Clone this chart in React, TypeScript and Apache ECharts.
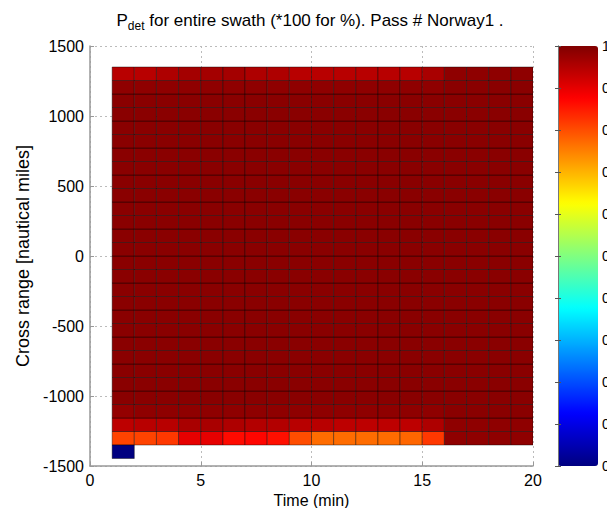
import React, { useEffect, useRef } from "react";
import * as echarts from "echarts";

// Time bin edges (minutes) of the detection grid
const timeEdges = [1, 2, 3, 4, 5, 6, 7, 8, 9, 10, 11, 12, 13, 14, 15, 16, 17, 18, 19, 20];

// Cross-range extent of the swath (nautical miles) and number of range bins
const swathMin = -1350;
const swathMax = 1350;
const rangeBinCount = 28;

// Detection probability per cell, listed from the lowest range bin upwards
const pdetRows: number[][] = [
  [0.81, 0.81, 0.82, 0.9, 0.9, 0.865, 0.87, 0.86, 0.8, 0.77, 0.77, 0.77, 0.77, 0.775, 0.82, 0.985, 0.985, 0.985, 0.985],
  [0.94, 0.945, 0.945, 0.96, 0.96, 0.955, 0.95, 0.95, 0.945, 0.945, 0.94, 0.94, 0.94, 0.94, 0.955, 0.985, 0.985, 0.985, 0.985],
  [0.98, 0.985, 0.985, 0.985, 0.985, 0.985, 0.985, 0.985, 0.985, 0.985, 0.985, 0.985, 0.985, 0.985, 0.985, 0.99, 0.99, 0.99, 0.99],
  [0.99, 0.99, 0.99, 0.99, 0.99, 0.99, 0.99, 0.99, 0.99, 0.99, 0.99, 0.99, 0.99, 0.99, 0.99, 0.99, 0.99, 0.99, 0.99],
  [0.99, 0.99, 0.99, 0.99, 0.99, 0.99, 0.99, 0.99, 0.99, 0.99, 0.99, 0.99, 0.99, 0.99, 0.99, 0.99, 0.99, 0.99, 0.99],
  [0.99, 0.99, 0.99, 0.99, 0.99, 0.99, 0.99, 0.99, 0.99, 0.99, 0.99, 0.99, 0.99, 0.99, 0.99, 0.99, 0.99, 0.99, 0.99],
  [0.99, 0.99, 0.99, 0.99, 0.99, 0.99, 0.99, 0.99, 0.99, 0.99, 0.99, 0.99, 0.99, 0.99, 0.99, 0.99, 0.99, 0.99, 0.99],
  [0.99, 0.99, 0.99, 0.99, 0.99, 0.99, 0.99, 0.99, 0.99, 0.99, 0.99, 0.99, 0.99, 0.99, 0.99, 0.99, 0.99, 0.99, 0.99],
  [0.99, 0.99, 0.99, 0.99, 0.99, 0.99, 0.99, 0.99, 0.99, 0.99, 0.99, 0.99, 0.99, 0.99, 0.99, 0.99, 0.99, 0.99, 0.99],
  [0.99, 0.99, 0.99, 0.99, 0.99, 0.99, 0.99, 0.99, 0.99, 0.99, 0.99, 0.99, 0.99, 0.99, 0.99, 0.99, 0.99, 0.99, 0.99],
  [0.99, 0.99, 0.99, 0.99, 0.99, 0.99, 0.99, 0.99, 0.99, 0.99, 0.99, 0.99, 0.99, 0.99, 0.99, 0.99, 0.99, 0.99, 0.99],
  [0.99, 0.99, 0.99, 0.99, 0.99, 0.99, 0.99, 0.99, 0.99, 0.99, 0.99, 0.99, 0.99, 0.99, 0.99, 0.99, 0.99, 0.99, 0.99],
  [0.99, 0.99, 0.99, 0.99, 0.99, 0.99, 0.99, 0.99, 0.99, 0.99, 0.99, 0.99, 0.99, 0.99, 0.99, 0.99, 0.99, 0.99, 0.99],
  [0.99, 0.99, 0.99, 0.99, 0.99, 0.99, 0.99, 0.99, 0.99, 0.99, 0.99, 0.99, 0.99, 0.99, 0.99, 0.99, 0.99, 0.99, 0.99],
  [0.99, 0.99, 0.99, 0.99, 0.99, 0.99, 0.99, 0.99, 0.99, 0.99, 0.99, 0.99, 0.99, 0.99, 0.99, 0.99, 0.99, 0.99, 0.99],
  [0.99, 0.99, 0.99, 0.99, 0.99, 0.99, 0.99, 0.99, 0.99, 0.99, 0.99, 0.99, 0.99, 0.99, 0.99, 0.99, 0.99, 0.99, 0.99],
  [0.99, 0.99, 0.99, 0.99, 0.99, 0.99, 0.99, 0.99, 0.99, 0.99, 0.99, 0.99, 0.99, 0.99, 0.99, 0.99, 0.99, 0.99, 0.99],
  [0.99, 0.99, 0.99, 0.99, 0.99, 0.99, 0.99, 0.99, 0.99, 0.99, 0.99, 0.99, 0.99, 0.99, 0.99, 0.99, 0.99, 0.99, 0.99],
  [0.99, 0.99, 0.99, 0.99, 0.99, 0.99, 0.99, 0.99, 0.99, 0.99, 0.99, 0.99, 0.99, 0.99, 0.99, 0.99, 0.99, 0.99, 0.99],
  [0.99, 0.99, 0.99, 0.99, 0.99, 0.99, 0.99, 0.99, 0.99, 0.99, 0.99, 0.99, 0.99, 0.99, 0.99, 0.99, 0.99, 0.99, 0.99],
  [0.99, 0.99, 0.99, 0.99, 0.99, 0.99, 0.99, 0.99, 0.99, 0.99, 0.99, 0.99, 0.99, 0.99, 0.99, 0.99, 0.99, 0.99, 0.99],
  [0.99, 0.99, 0.99, 0.99, 0.99, 0.99, 0.99, 0.99, 0.99, 0.99, 0.99, 0.99, 0.99, 0.99, 0.99, 0.99, 0.99, 0.99, 0.99],
  [0.99, 0.99, 0.99, 0.99, 0.99, 0.99, 0.99, 0.99, 0.99, 0.99, 0.99, 0.99, 0.99, 0.99, 0.99, 0.99, 0.99, 0.99, 0.99],
  [0.99, 0.99, 0.99, 0.99, 0.99, 0.99, 0.99, 0.99, 0.99, 0.99, 0.99, 0.99, 0.99, 0.99, 0.99, 0.99, 0.99, 0.99, 0.99],
  [0.99, 0.99, 0.99, 0.99, 0.99, 0.99, 0.99, 0.99, 0.99, 0.99, 0.99, 0.99, 0.99, 0.99, 0.99, 0.99, 0.99, 0.99, 0.99],
  [0.99, 0.99, 0.99, 0.99, 0.99, 0.99, 0.99, 0.99, 0.99, 0.99, 0.99, 0.99, 0.99, 0.99, 0.99, 0.99, 0.99, 0.99, 0.99],
  [0.985, 0.985, 0.985, 0.985, 0.985, 0.985, 0.985, 0.985, 0.985, 0.985, 0.985, 0.985, 0.985, 0.985, 0.985, 0.99, 0.99, 0.99, 0.99],
  [0.945, 0.945, 0.955, 0.965, 0.965, 0.965, 0.955, 0.955, 0.945, 0.945, 0.945, 0.945, 0.945, 0.945, 0.96, 0.985, 0.985, 0.985, 0.985],
];

// Single cell below the swath (first minute, one bin under the lowest row)
const belowSwathCell = { t0: 1, t1: 2, value: 0 };

// Axis tick labels
const timeTicks = [0, 5, 10, 15, 20];
const rangeTicks = [-1500, -1000, -500, 0, 500, 1000, 1500];
const colorbarTicks = [0, 0.1, 0.2, 0.3, 0.4, 0.5, 0.6, 0.7, 0.8, 0.9, 1];

// MATLAB "jet" colormap breakpoints (evenly spaced at 1/8)
const jetColors = ["#000080", "#0000ff", "#0080ff", "#00ffff", "#80ff80", "#ffff00", "#ff8000", "#ff0000", "#800000"];

const FONT = "'Liberation Sans', Arial, Helvetica, sans-serif";

export default function App() {
  const ref = useRef<HTMLDivElement>(null);

  useEffect(() => {
    if (!ref.current) return;
    const chart = echarts.init(ref.current, null, { renderer: "svg" });

    const binHeight = (swathMax - swathMin) / rangeBinCount;
    const rangeEdges: number[] = [];
    for (let i = 0; i <= rangeBinCount; i++) rangeEdges.push(swathMin + i * binHeight);

    const cells: number[][] = [];
    pdetRows.forEach((row, r) => {
      row.forEach((v, c) => {
        cells.push([timeEdges[c], timeEdges[c + 1], rangeEdges[r], rangeEdges[r + 1], v]);
      });
    });
    cells.push([belowSwathCell.t0, belowSwathCell.t1, swathMin - binHeight, swathMin, belowSwathCell.value]);

    const gridLeft = 90;
    const gridTop = 46;
    const gridW = 443;
    const gridH = 420;
    const cbLeft = 558;
    const cbW = 40;

    const option: any = {
      animation: false,
      backgroundColor: "#ffffff",
      textStyle: { fontFamily: FONT },
      title: {
        text: "{p|P}{sub|det}{t| for entire swath (*100 for %). Pass # Norway1 .}",
        left: 305,
        textAlign: "center",
        top: 5,
        textStyle: {
          fontWeight: "normal",
          rich: {
            p: { fontSize: 17, fontFamily: FONT, fontWeight: "normal", color: "#000", lineHeight: 20 },
            sub: { fontSize: 12, fontFamily: FONT, fontWeight: "normal", color: "#000", padding: [12, 0, 0, 0], lineHeight: 20 },
            t: { fontSize: 17, fontFamily: FONT, fontWeight: "normal", color: "#000", lineHeight: 20 },
          },
        },
      },
      grid: [
        { left: gridLeft, top: gridTop, width: gridW, height: gridH, containLabel: false, outerBoundsMode: "none" },
        { left: cbLeft, top: gridTop, width: cbW, height: gridH, containLabel: false, outerBoundsMode: "none" },
      ],
      xAxis: [
        {
          type: "value",
          gridIndex: 0,
          min: timeTicks[0],
          max: timeTicks[timeTicks.length - 1],
          interval: 5,
          name: "Time (min)",
          nameLocation: "middle",
          nameGap: 25,
          nameTextStyle: { fontSize: 16, color: "#000", fontFamily: FONT },
          axisLine: { show: true, onZero: false, lineStyle: { color: "#999", width: 1.5 } },
          axisTick: { show: true, inside: true, length: 4, lineStyle: { color: "#999" } },
          axisLabel: { fontSize: 16, color: "#000", margin: 6, fontFamily: FONT },
          splitLine: { show: true, lineStyle: { color: "#bbb", type: [2, 3], width: 1 } },
        },
        { type: "value", gridIndex: 1, min: 0, max: 1, show: false },
      ],
      yAxis: [
        {
          type: "value",
          gridIndex: 0,
          min: rangeTicks[0],
          max: rangeTicks[rangeTicks.length - 1],
          interval: 500,
          name: "Cross range [nautical miles]",
          nameLocation: "middle",
          nameGap: 51,
          nameTextStyle: { fontSize: 18, color: "#000", fontFamily: FONT },
          axisLine: { show: true, onZero: false, lineStyle: { color: "#999", width: 1.5 } },
          axisTick: { show: true, inside: true, length: 4, lineStyle: { color: "#999" } },
          axisLabel: { fontSize: 16, color: "#000", margin: 6, fontFamily: FONT, formatter: (v: number) => String(v) },
          splitLine: { show: true, lineStyle: { color: "#bbb", type: [2, 3], width: 1 } },
        },
        {
          type: "value",
          gridIndex: 1,
          position: "right",
          min: colorbarTicks[0],
          max: colorbarTicks[colorbarTicks.length - 1],
          interval: 0.1,
          z: 10,
          axisLine: { show: true, lineStyle: { color: "#777", width: 1 } },
          axisTick: { show: true, inside: true, length: 3, lineStyle: { color: "#555" } },
          axisLabel: { fontSize: 14, color: "#000", margin: 4, fontFamily: FONT, formatter: (v: number) => String(v) },
          splitLine: { show: false },
        },
        {
          type: "value",
          gridIndex: 1,
          position: "left",
          min: colorbarTicks[0],
          max: colorbarTicks[colorbarTicks.length - 1],
          interval: 0.1,
          z: 10,
          axisLine: { show: true, lineStyle: { color: "#777", width: 1 } },
          axisTick: { show: true, inside: true, length: 3, lineStyle: { color: "#555" } },
          axisLabel: { show: false },
          splitLine: { show: false },
        },
      ],
      visualMap: {
        type: "continuous",
        min: 0,
        max: 1,
        dimension: 4,
        seriesIndex: 0,
        calculable: false,
        hoverLink: false,
        text: null,
        showLabel: false,
        padding: 0,
        left: cbLeft,
        top: gridTop,
        itemWidth: cbW,
        itemHeight: gridH,
        inRange: { color: jetColors },
        z: 4,
      },
      series: [
        {
          type: "custom",
          xAxisIndex: 0,
          yAxisIndex: 0,
          clip: true,
          encode: { x: [0, 1], y: [2, 3] },
          data: cells,
          renderItem: (_params: any, api: any) => {
            const a = api.coord([api.value(0), api.value(3)]);
            const b = api.coord([api.value(1), api.value(2)]);
            return {
              type: "rect",
              shape: { x: a[0], y: a[1], width: b[0] - a[0], height: b[1] - a[1] },
              style: { fill: api.visual("color"), stroke: "rgba(0,0,0,0.5)", lineWidth: 0.8 },
            };
          },
        },
      ],
    };

    chart.setOption(option);
    return () => chart.dispose();
  }, []);

  return (
    <div
      ref={ref}
      style={{ position: "fixed", left: 0, top: 0, width: 607, height: 508, background: "#fff" }}
    />
  );
}
